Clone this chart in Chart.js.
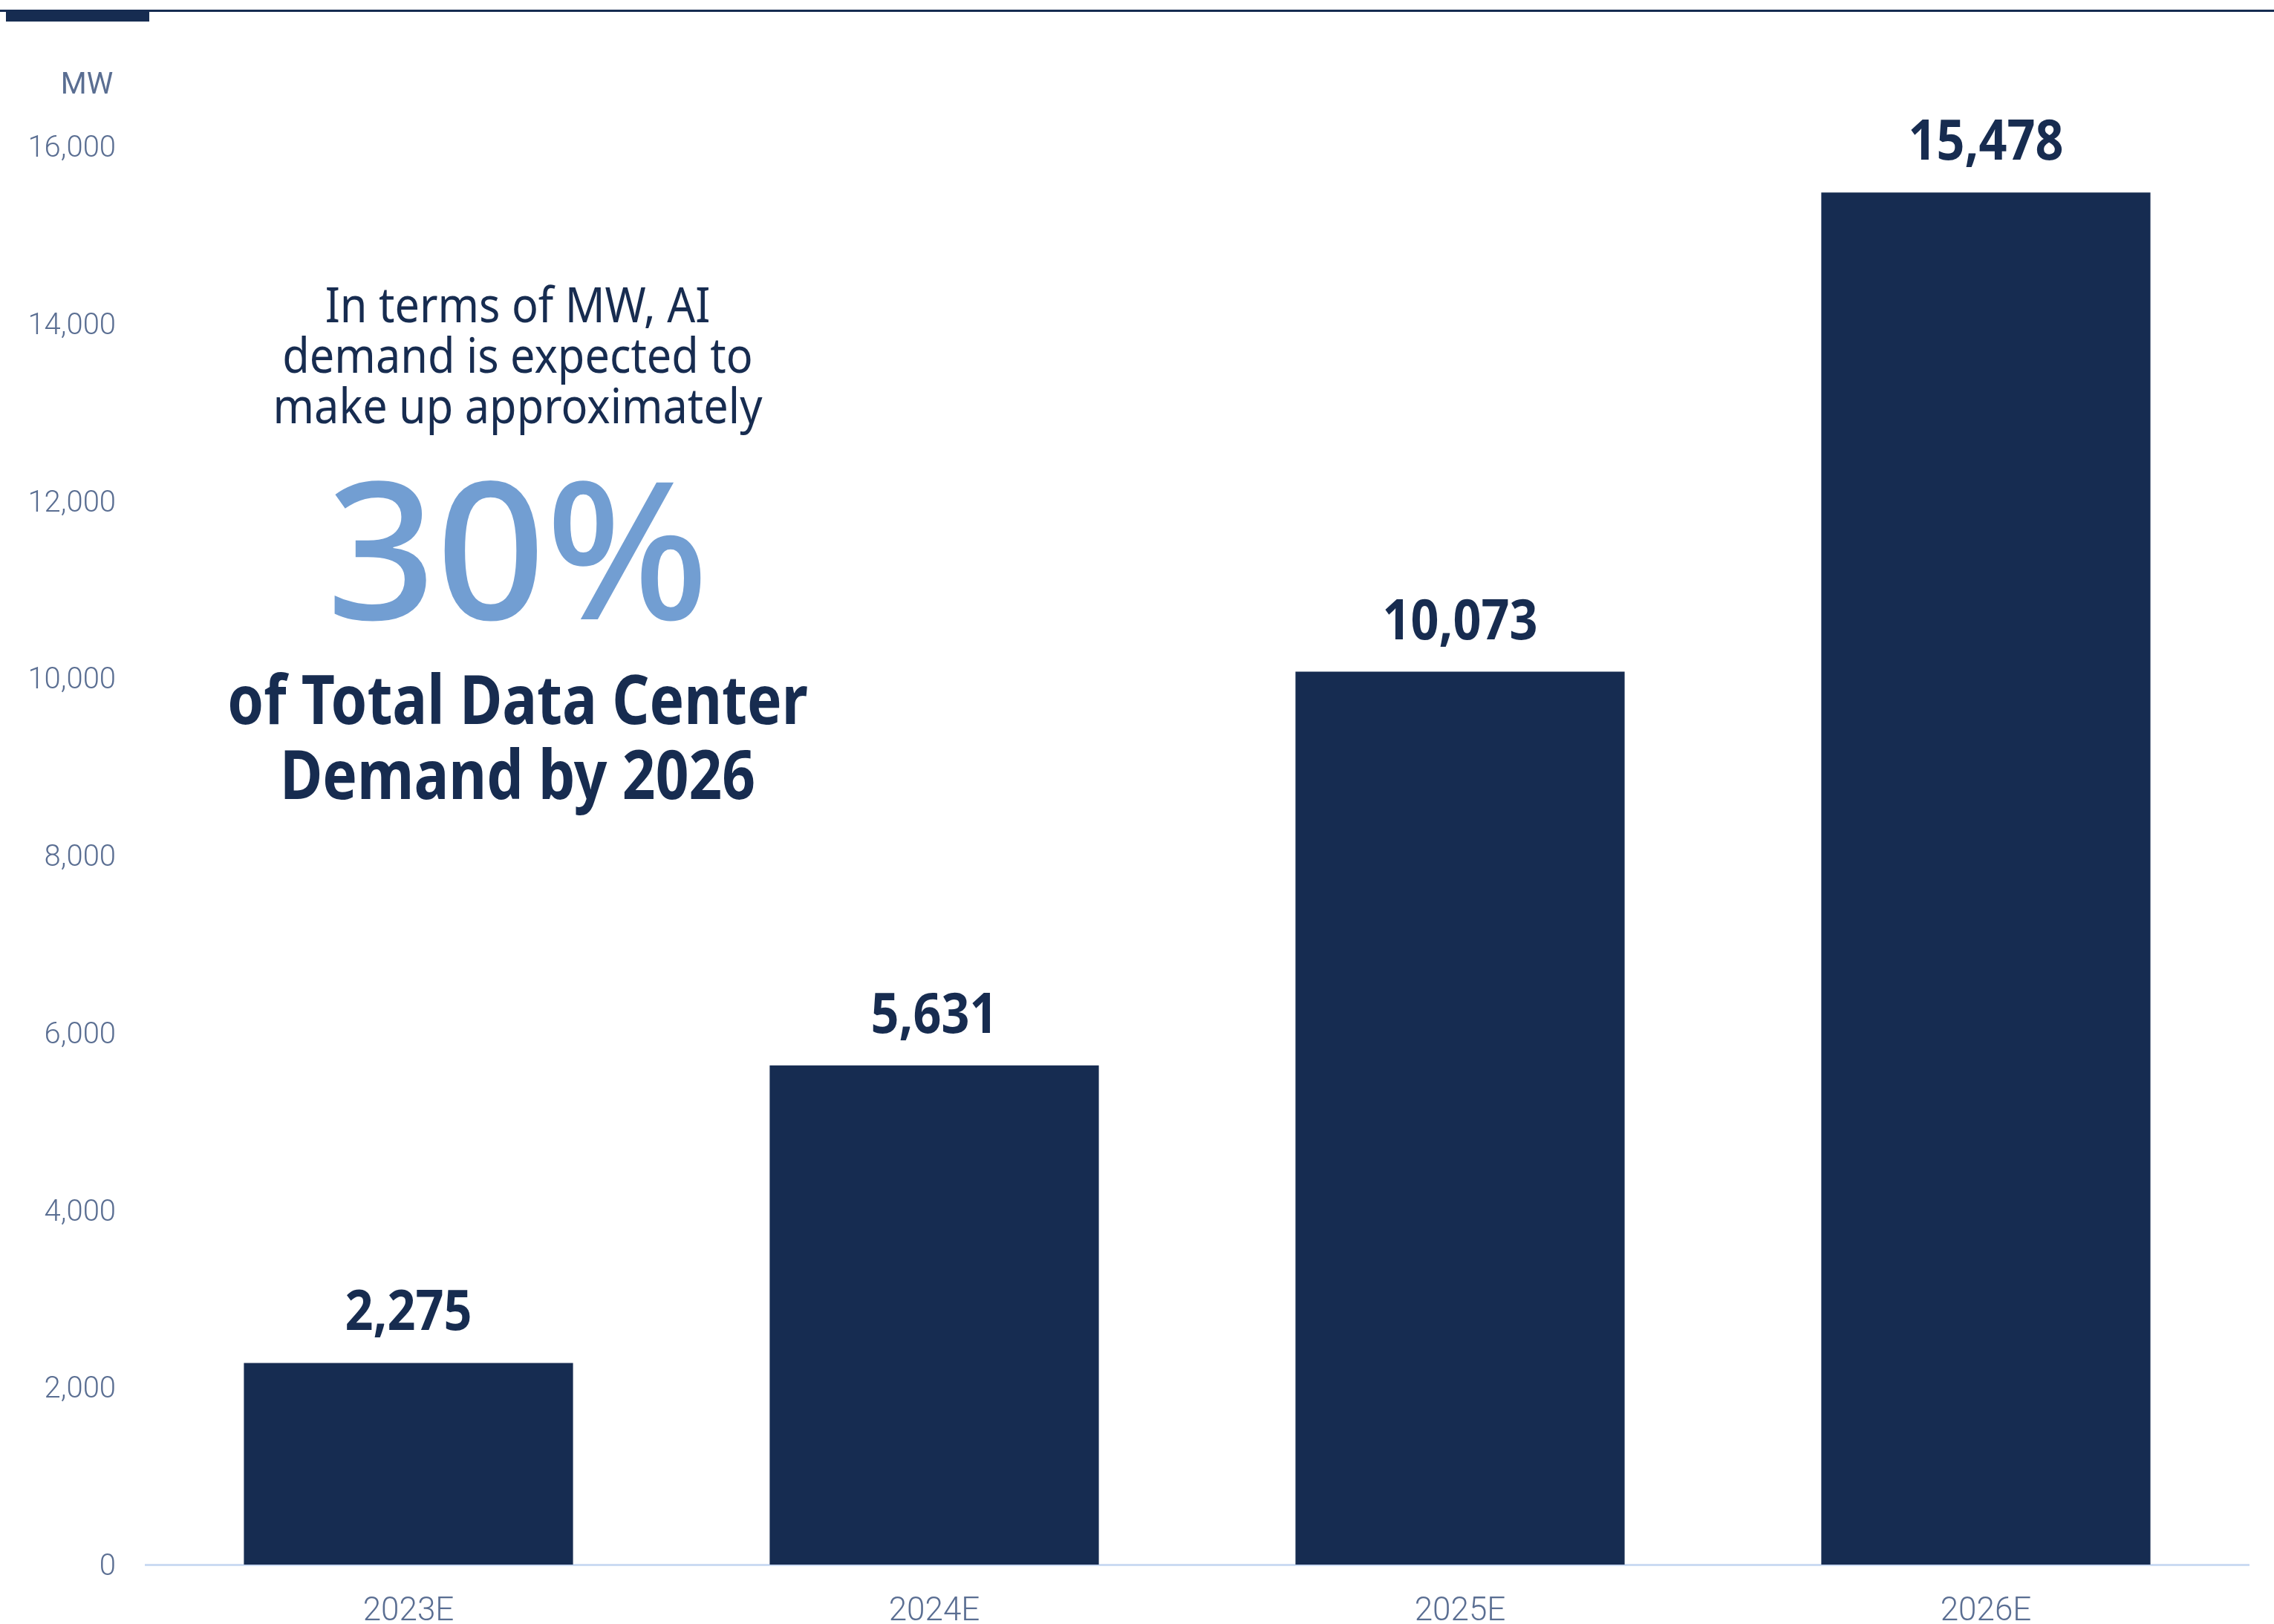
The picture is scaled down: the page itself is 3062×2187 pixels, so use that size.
<!DOCTYPE html>
<html>
<head>
<meta charset="utf-8">
<script src="https://cdn.jsdelivr.net/npm/chart.js@4"></script>
<style>
  html, body { margin: 0; padding: 0; background: #ffffff; }
  #wrap { width: 3062px; height: 2187px; position: relative; }
</style>
</head>
<body>
<div id="wrap"><canvas id="graph"></canvas></div>
<script>
const ctx = document.getElementById('graph');

const categories = ['2023E', '2024E', '2025E', '2026E'];
const demandMW = [2275, 5631, 10073, 15478];
const yMax = 16000;
const yStep = 2000;
const unitLabel = 'MW';

const introLines = ['In terms of MW, AI', 'demand is expected to', 'make up approximately'];
const bigFigure = '30%';
const outroLines = ['of Total Data Center', 'Demand by 2026'];

const navy = '#162c51';
const textNavy = '#172c50';
const tickGrey = '#5a6e92';

// draws text squeezed horizontally, the source uses a condensed face
function squeezed(c, text, x, y, sx) {
    c.save();
    c.translate(x, y);
    c.scale(sx, 1);
    c.fillText(text, 0, 0);
    c.restore();
}

// top rule, unit label, value labels and the callout text
const decorations = {
    id: 'decorations',
    beforeDraw(chart) {
        const c = chart.ctx;
        c.save();
        c.fillStyle = navy;
        c.fillRect(0, 13, chart.width, 3);
        c.fillRect(8, 13, 193, 16);
        c.fillStyle = tickGrey;
        c.font = '40px Roboto, "Noto Sans", sans-serif';
        c.textAlign = 'center';
        c.textBaseline = 'alphabetic';
        c.fillText(unitLabel, 117, 126);
        c.restore();
    },
    afterDraw(chart) {
        const c = chart.ctx;
        c.save();
        c.textAlign = 'center';
        c.textBaseline = 'alphabetic';
        c.fillStyle = textNavy;

        // values above bars
        c.font = 'bold 76px "Noto Sans", sans-serif';
        chart.getDatasetMeta(0).data.forEach((bar, i) => {
            squeezed(c, demandMW[i].toLocaleString('en-US'), bar.x, bar.y - 44, 0.875);
        });

        // callout
        const cx = 697;
        c.font = '66px "Noto Sans", sans-serif';
        introLines.forEach((t, i) => squeezed(c, t, cx, 434 + i * 68, 0.9));
        c.fillStyle = '#729ed2';
        c.font = '500 258px "Noto Sans", sans-serif';
        c.fillText(bigFigure, cx, 834);
        c.fillStyle = textNavy;
        c.font = 'bold 91px "Noto Sans", sans-serif';
        outroLines.forEach((t, i) => squeezed(c, t, cx, 975 + i * 101, 0.86));
        c.restore();
    }
};

const config = {
    type: 'bar',
    data: {
        labels: categories,
        datasets: [{
            label: 'AI data center demand (MW)',
            data: demandMW,
            backgroundColor: navy,
            borderWidth: 0,
            categoryPercentage: 1,
            barPercentage: 0.626
        }]
    },
    options: {
        responsive: true,
        maintainAspectRatio: false,
        animation: false,
        devicePixelRatio: 1,
        layout: { padding: { top: 197, right: 34, bottom: 0, left: 0 } },
        plugins: {
            legend: { display: false },
            tooltip: { enabled: false }
        },
        scales: {
            x: {
                grid: { display: false, drawTicks: false },
                border: { display: true, color: '#cbdbf2', width: 3 },
                ticks: {
                    color: tickGrey,
                    padding: 38,
                    font: { family: 'Roboto, "Noto Sans", sans-serif', size: 44, weight: 300 }
                },
                afterFit: (scale) => { scale.height = 80; }
            },
            y: {
                min: 0,
                max: yMax,
                grid: { display: false, drawTicks: false },
                border: { display: false },
                ticks: {
                    stepSize: yStep,
                    color: tickGrey,
                    padding: 40,
                    labelOffset: 4,
                    font: { family: 'Roboto, "Noto Sans", sans-serif', size: 40, weight: 300 },
                    callback: (value) => value.toLocaleString('en-US')
                },
                afterFit: (scale) => { scale.width = 196; }
            }
        }
    },
    plugins: [decorations]
};

const chart = new Chart(ctx, config);
</script>
</body>
</html>
